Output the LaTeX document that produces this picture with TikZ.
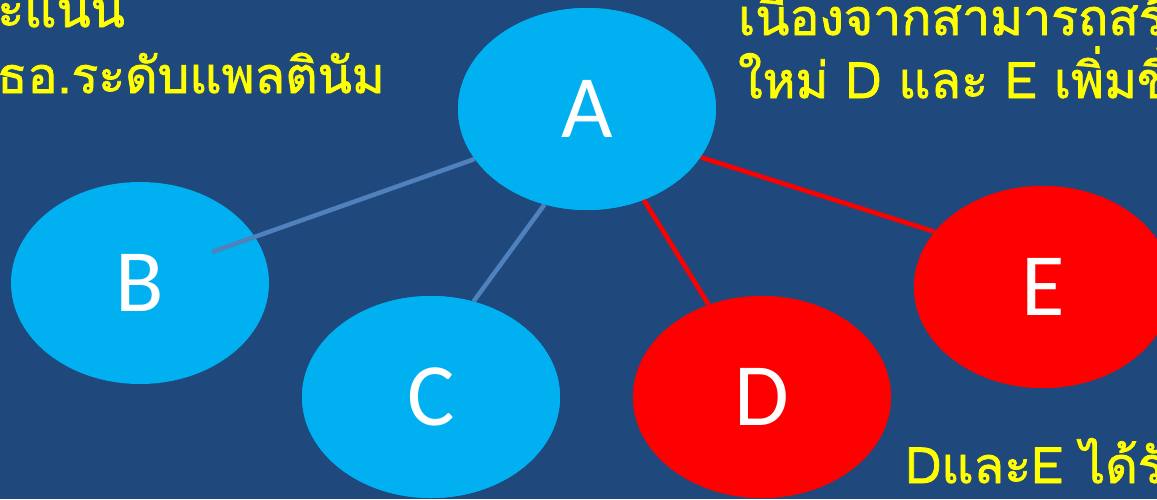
\documentclass[tikz,border=0pt]{standalone}
\usepackage{fontspec}
\setmainfont{Carlito}
\newfontfamily\thaifont[Script=Thai, FakeBold=1.5]{Loma}
\usetikzlibrary{shapes.geometric}
\definecolor{bg}{RGB}{31,73,125}
\definecolor{lightb}{RGB}{0,176,240}
\definecolor{lineb}{RGB}{79,129,189}
\definecolor{thaiy}{RGB}{255,255,0}
\tikzset{
  bubble/.style={ellipse, minimum width=258pt, minimum height=202pt, inner sep=0pt, text=white, font=\fontsize{89}{90}\selectfont},
  bluebubble/.style={bubble, fill=lightb},
  redbubble/.style={bubble, fill=red},
  blueline/.style={draw=lineb, line width=4.5pt},
  redline/.style={draw=red, line width=4.5pt},
  thaitext/.style={text=thaiy, font=\thaifont\fontsize{50}{63}\selectfont, inner sep=0pt, align=left}
}
\begin{document}
\begin{tikzpicture}[x=1pt,y=-1pt]
\useasboundingbox (0,0) rectangle (1157,499);
\clip (0,0) rectangle (1157,499);
\fill[bg] (0,0) rectangle (1157,499);
\node[bluebubble] (B) at (140,283) {B};
\coordinate (b1) at (212,252);
\node[bluebubble] (A) at (587,109) {A};
\node[bluebubble] (C) at (431,397) {C};
\node[redbubble] (D) at (762,397) {D};
\node[redbubble] (E) at (1043,287) {E};
% connectors
\path[blueline] (b1) -- (A.204.7);
\path[blueline] (C.66) -- (A.246);
\path[redline] (A.302.5) -- (D.120.5);
\path[redline] (A.337) -- (E.153.4);
% redraw to keep nodes above connectors
\node[bluebubble] at (A.center) {A};
\node[bluebubble] at (C.center) {C};
\node[redbubble] at (D.center) {D};
\node[redbubble] at (E.center) {E};
% texts
\node[thaitext, anchor=base east] (t1) at (125,27) {คะแนน};
\node[thaitext, anchor=base east] (t2) at (385,93) {ธอ.ระดับแพลตินัม};
\node[thaitext, anchor=base west] (t3) at (738,35) {เนื่องจากสามารถสร้าง};
\node[thaitext, anchor=base west] (t4) at (738,98) {ใหม่ D และ E เพิ่มขึ้น};
\node[thaitext, anchor=base west] (t5) at (905,483) {DและE ได้รับ};
\end{tikzpicture}
\end{document}
